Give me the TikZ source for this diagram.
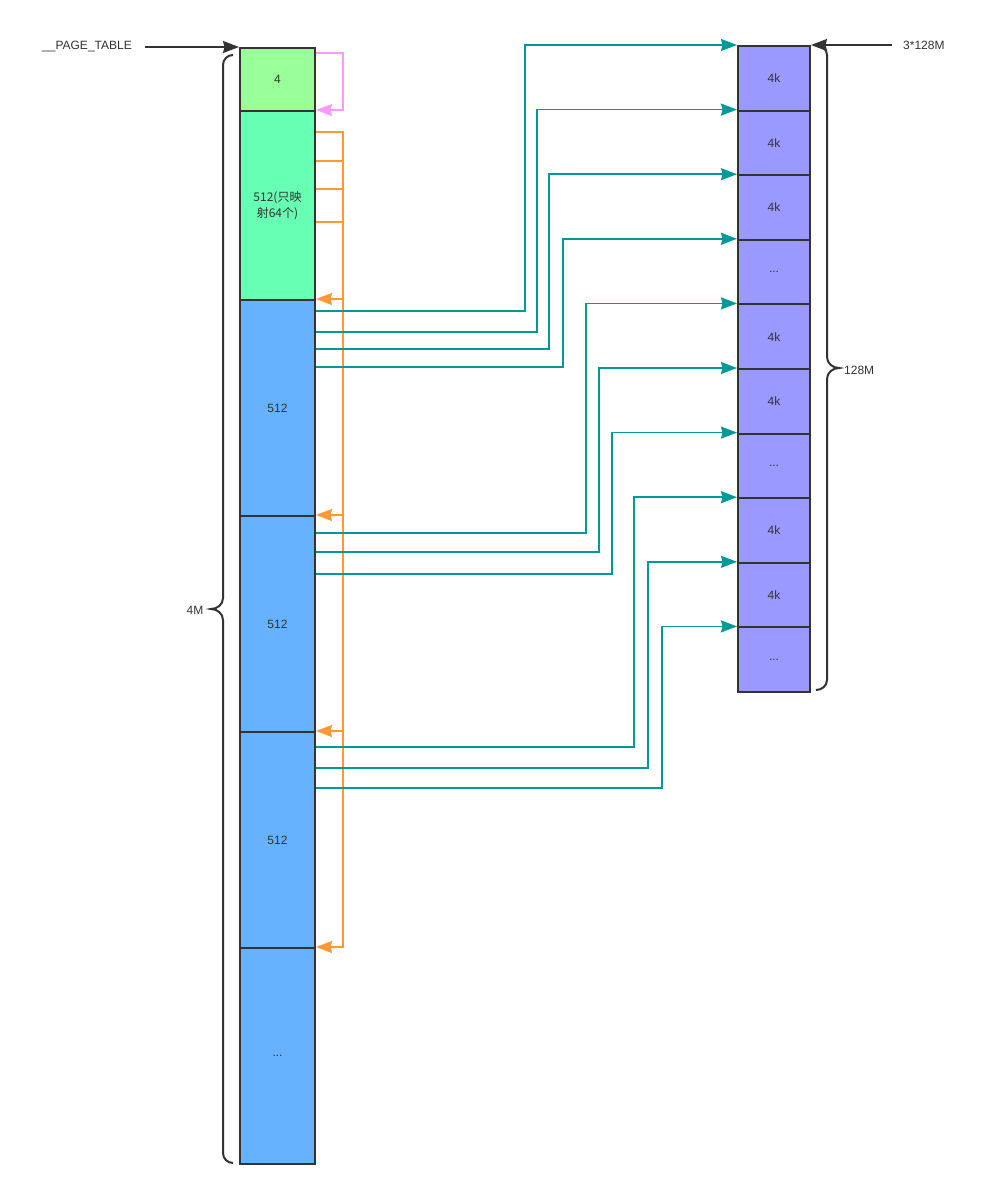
\documentclass[tikz,border=0pt]{standalone}
\usepackage{fontspec}
\setmainfont{Liberation Sans}
\newfontfamily\cjk{Noto Sans CJK SC}
\usetikzlibrary{arrows.meta}
\definecolor{dk}{HTML}{333333}
\definecolor{gA}{HTML}{99FF99}
\definecolor{gB}{HTML}{66FFB3}
\definecolor{bl}{HTML}{66B2FF}
\definecolor{pu}{HTML}{9999FF}
\definecolor{tl}{HTML}{009999}
\definecolor{og}{HTML}{FF9933}
\definecolor{pk}{HTML}{FF99FF}
\newcommand\tridots{...}
\tikzset{
  box/.style={draw=dk, line width=2pt, anchor=north west, inner sep=0pt, text=dk, font=\fontsize{12}{14}\selectfont},
  lbox/.style={box, minimum width=75pt},
  rbox/.style={box, fill=pu, minimum width=72pt, minimum height=64.6pt},
  tip/.style={-{Stealth[length=16pt,width=12pt,inset=1.5pt]}},
  tlink/.style={draw=tl, line width=1.7pt, tip},
  olink/.style={draw=og, line width=1.7pt, tip},
  plink/.style={draw=pk, line width=1.7pt, tip},
  blink/.style={draw=dk, line width=1.7pt, tip},
  brace/.style={draw=dk, line width=2pt},
  lbl/.style={text=dk, font=\fontsize{12}{14}\selectfont, inner sep=0pt}
}
\begin{document}
\begin{tikzpicture}[x=1pt,y=-1pt]
\path[use as bounding box, fill=white] (0,0) rectangle (984,1188);
% left column
\node[lbox, fill=gA, minimum height=63pt] (L0) at (239,47) {4};
\node[lbox, fill=gB, minimum height=189pt, align=center] (L1) at (239,110) {\cjk 512(只映\\[2pt]\cjk 射64个)};
\node[lbox, fill=bl, minimum height=216pt] (L2) at (239,299) {512};
\node[lbox, fill=bl, minimum height=216pt] (L3) at (239,515) {512};
\node[lbox, fill=bl, minimum height=216pt] (L4) at (239,731) {512};
\node[lbox, fill=bl, minimum height=216pt] (L5) at (239,947) {\tridots};
% right column
\foreach \i/\t in {0/4k,1/4k,2/4k,3/\tridots,4/4k,5/4k,6/\tridots,7/4k,8/4k,9/\tridots}{
  \node[rbox] (R\i) at (737,{45+64.6*\i}) {\t};
}
% top labels and arrows
\node[lbl, anchor=east] (pt) at (132,47) {\_\_PAGE\_TABLE};
\draw[blink, shorten <=13pt] (pt.east) -- (L0.north west);
\node[lbl, anchor=west] (tm) at (903,45) {3*128M};
\draw[blink, shorten <=11pt] (tm.west) -- (R0.north east);
% pink
\draw[plink] (L0.east |- 0,53) -- (343,53) |- (L1.north east);
% orange
\draw[olink] (L1.east |- 0,132) -- (343,132) |- (L5.north east);
\draw[olink] (L1.east |- 0,161) -- (343,161) |- (L4.north east);
\draw[olink] (L1.east |- 0,189) -- (343,189) |- (L3.north east);
\draw[olink] (L1.east |- 0,222) -- (343,222) |- (L2.north east);
% teal
\draw[tlink] (L2.east |- 0,311) -- (525,311) |- (R0.north west);
\draw[tlink] (L2.east |- 0,332) -- (537,332) |- (R1.north west);
\draw[tlink] (L2.east |- 0,349) -- (549,349) |- (R2.north west);
\draw[tlink] (L2.east |- 0,367) -- (563,367) |- (R3.north west);
\draw[tlink] (L3.east |- 0,533) -- (586,533) |- (R4.north west);
\draw[tlink] (L3.east |- 0,552) -- (599,552) |- (R5.north west);
\draw[tlink] (L3.east |- 0,574) -- (612,574) |- (R6.north west);
\draw[tlink] (L4.east |- 0,747) -- (634,747) |- (R7.north west);
\draw[tlink] (L4.east |- 0,768) -- (648,768) |- (R8.north west);
\draw[tlink] (L4.east |- 0,788) -- (662,788) |- (R9.north west);
% braces
\draw[brace] (233,55) to[out=180,in=90] (223,65) -- (223,598)
  to[out=-90,in=0] (211,609) to[out=0,in=90] (223,620) -- (223,1153)
  to[out=-90,in=180] (233,1163);
\node[lbl] (m4) at (195,610) {4M};
\draw[brace] (816,45) to[out=0,in=90] (827,55) -- (827,357)
  to[out=-90,in=180] (839,368) to[out=180,in=90] (827,379) -- (827,680)
  to[out=-90,in=0] (816,690);
\node[lbl, anchor=west] (m128) at (844,370) {128M};
\end{tikzpicture}
\end{document}
